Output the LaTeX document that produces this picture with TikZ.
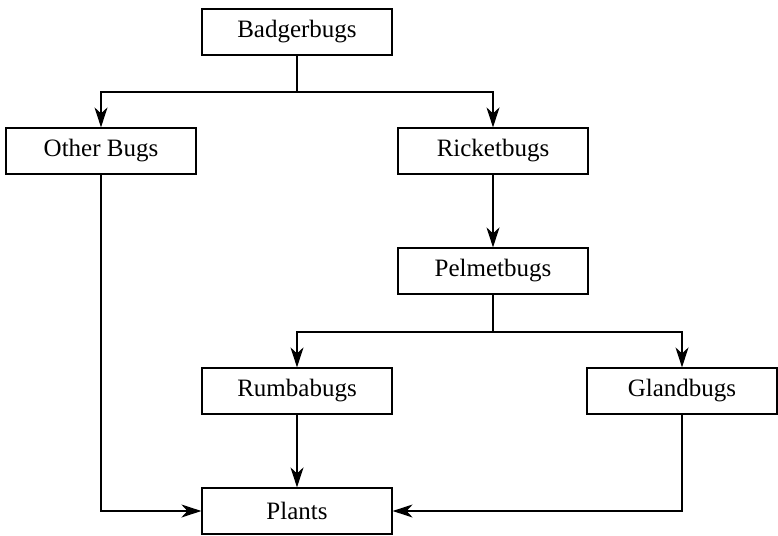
\documentclass[tikz,border=0pt]{standalone}
\usepackage{fontspec}
\setmainfont{Liberation Serif}
\usetikzlibrary{arrows.meta}
\begin{document}
\begin{tikzpicture}[x=1pt,y=-1pt,
  box/.style={draw, line width=1.2pt, minimum width=190pt, minimum height=46pt, inner sep=0pt, font=\fontsize{25}{29}\selectfont},
  link/.style={line width=1.3pt},
  arr/.style={link, -{Stealth[length=20pt,width=13pt,inset=6pt]}}]
\useasboundingbox (0,0) rectangle (778,535);
\node[box] (bad) at (297,32) {Badgerbugs};
\node[box] (oth) at (101,151) {Other Bugs};
\node[box] (ric) at (493,151) {Ricketbugs};
\node[box] (pel) at (493,271) {Pelmetbugs};
\node[box] (rum) at (297,391) {Rumbabugs};
\node[box] (gla) at (682,391) {Glandbugs};
\node[box] (pla) at (297,511) {Plants};
\coordinate (j1) at (297,92);
\coordinate (j2) at (493,332);
\draw[link] (bad.south) -- (j1);
\draw[arr] (j1) -| (oth.north);
\draw[arr] (j1) -| (ric.north);
\draw[arr] (ric) -- (pel);
\draw[link] (pel.south) -- (j2);
\draw[arr] (j2) -| (rum.north);
\draw[arr] (j2) -| (gla.north);
\draw[arr] (rum) -- (pla);
\draw[arr] (oth.south) |- (pla.west);
\draw[arr] (gla.south) |- (pla.east);
\end{tikzpicture}
\end{document}
